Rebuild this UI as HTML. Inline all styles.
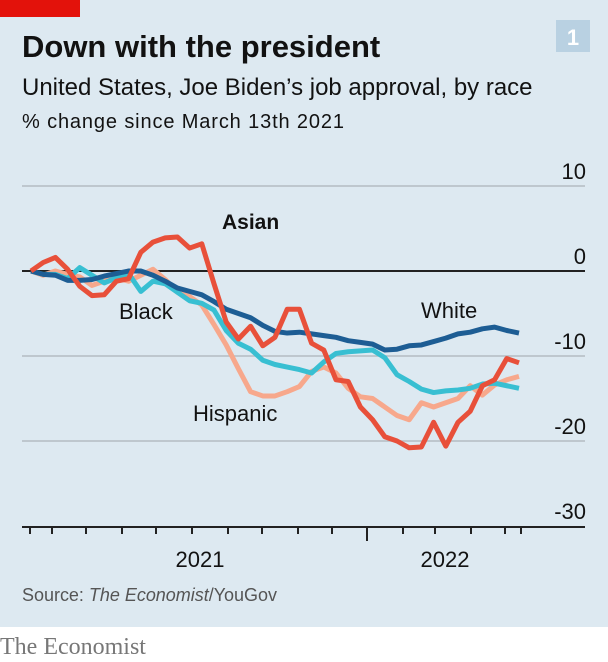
<!DOCTYPE html>
<html><head><meta charset="utf-8"><style>
body{margin:0;width:608px;height:662px;overflow:hidden;background:#fff;font-family:"Liberation Sans",sans-serif}
#bg{position:absolute;left:0;top:0;width:608px;height:627px;background:#dde9f1}
</style></head><body>
<div id="bg"></div>
<svg width="608" height="662" style="position:absolute;left:0;top:0">
<rect x="0" y="0" width="80" height="17" fill="#e3120b"/>
<text x="22" y="57" font-size="31" font-weight="bold" fill="#121212">Down with the president</text>
<text x="22" y="95" font-size="24" fill="#121212">United States, Joe Biden’s job approval, by race</text>
<text x="22" y="128" font-size="20" fill="#121212" textLength="322">% change since March 13th 2021</text>
<rect x="556" y="20" width="34" height="32" fill="#b9d1e2"/>
<text x="573" y="45" font-size="22" font-weight="bold" fill="#fff" text-anchor="middle">1</text>
<g id="grid"></g>
<g id="lines"></g>
<g id="xaxis"></g>
<text x="222" y="229" font-size="21" font-weight="bold" fill="#121212">Asian</text>
<text x="119" y="319" font-size="22" fill="#121212">Black</text>
<text x="421" y="318" font-size="22" fill="#121212">White</text>
<text x="193" y="421" font-size="22" fill="#121212">Hispanic</text>
<text x="22" y="601" font-size="18" fill="#555" textLength="255">Source: <tspan font-style="italic">The Economist</tspan>/YouGov</text>
<text x="0" y="654" font-size="24" fill="#777" font-family="Liberation Serif,serif">The Economist</text>
</svg>
<script>
const yTicks=[10,0,-10,-20,-30];
const yearLabels=["2021","2022"];
const white=[0,-0.4,-0.5,-1.1,-1.1,-1,-0.6,-0.3,0,0,-0.5,-1.2,-2,-2.4,-2.8,-3.6,-4.5,-5,-5.5,-6.4,-7.1,-7.3,-7.2,-7.4,-7.6,-7.8,-8.2,-8.4,-8.6,-9.3,-9.2,-8.8,-8.7,-8.3,-7.9,-7.4,-7.2,-6.8,-6.6,-7,-7.3];
const black=[0,-0.4,-0.4,-0.9,0.4,-0.5,-1.4,-0.8,-0.3,-2.4,-1.2,-1.5,-2.5,-3.5,-3.8,-4.6,-7,-8.5,-9.2,-10.5,-11,-11.3,-11.6,-12,-10.7,-9.7,-9.5,-9.4,-9.3,-10.2,-12.2,-13,-13.9,-14.3,-14.1,-14,-13.8,-13.3,-13.2,-13.5,-13.8];
const hispanic=[0,-0.5,0,-0.4,-0.7,-1.7,-1.2,-0.8,-1.2,-0.5,0.2,-1,-2.5,-3,-4,-6.3,-8.7,-11.5,-14.2,-14.7,-14.7,-14.2,-13.6,-11.8,-11.3,-12,-13.8,-14.8,-15,-16,-17,-17.5,-15.5,-16,-15.5,-15,-13.5,-14.6,-13.4,-12.8,-12.4];
const asian=[0,1,1.6,0.2,-1.8,-2.9,-2.8,-1.2,-0.9,2.2,3.4,3.9,4,2.7,3.2,-1.5,-6,-8,-6.5,-8.8,-7.8,-4.5,-4.5,-8.5,-9.3,-12.8,-13,-16,-17.5,-19.5,-20,-20.8,-20.7,-17.8,-20.6,-17.8,-16.5,-13.5,-12.8,-10.3,-10.8];
const NS="http://www.w3.org/2000/svg";
const y=v=>271-v*8.5;
const x=i=>31+i*(519-31)/40;
const grid=document.getElementById('grid');
yTicks.forEach(t=>{
  if(t>-30){const l=document.createElementNS(NS,'line');
  l.setAttribute('x1',22);l.setAttribute('x2',585);l.setAttribute('y1',y(t));l.setAttribute('y2',y(t));
  l.setAttribute('stroke',t===0?'#222':'#b4bcc2');l.setAttribute('stroke-width',t===0?2:1.5);
  
  
  grid.appendChild(l);}
  const tx=document.createElementNS(NS,'text');
  tx.setAttribute('x',586);tx.setAttribute('y',y(t)-7);tx.setAttribute('text-anchor','end');
  tx.setAttribute('font-size','22');tx.setAttribute('fill','#121212');
  tx.textContent=t;
  
  
  grid.appendChild(tx);
});
const xa=document.getElementById('xaxis');
const ax=document.createElementNS(NS,'line');
ax.setAttribute('x1',22);ax.setAttribute('x2',585);ax.setAttribute('y1',527);ax.setAttribute('y2',527);
ax.setAttribute('stroke','#222');ax.setAttribute('stroke-width',2);


xa.appendChild(ax);
[30,52,86,122,156,192,228,262,298,332,367,403,435,471,505,521].forEach(p=>{
  const t=document.createElementNS(NS,'line');
  t.setAttribute('x1',p);t.setAttribute('x2',p);t.setAttribute('y1',527);t.setAttribute('y2',p===367?541:534);
  t.setAttribute('stroke','#222');t.setAttribute('stroke-width',2);
  
  
  xa.appendChild(t);
});
[200,445].forEach((p,i)=>{
  const t=document.createElementNS(NS,'text');
  t.setAttribute('x',p);t.setAttribute('y',567);t.setAttribute('text-anchor','middle');
  t.setAttribute('font-size','22');t.setAttribute('fill','#121212');
  t.textContent=yearLabels[i];
  
  
  xa.appendChild(t);
});
const lines=document.getElementById('lines');
[[hispanic,'#f7a88c','line-hispanic'],[black,'#38bfd2','line-black'],[white,'#1d5d94','line-white'],[asian,'#e8503a','line-asian']].forEach(([d,c,n])=>{
  const p=document.createElementNS(NS,'polyline');
  p.setAttribute('points',d.map((v,i)=>x(i)+','+y(v)).join(' '));
  p.setAttribute('fill','none');p.setAttribute('stroke',c);p.setAttribute('stroke-width',5);
  p.setAttribute('stroke-linejoin','round');
  
  
  lines.appendChild(p);
});
</script>
</body></html>
